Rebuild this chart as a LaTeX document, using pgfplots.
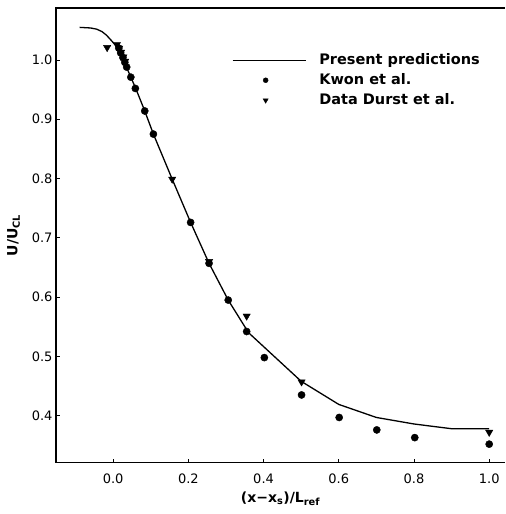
\documentclass[border=0pt]{standalone}
\usepackage{fontspec}
\setmainfont{DejaVu Sans}
\usepackage{pgfplots}
\pgfplotsset{compat=1.18}
\pgfplotsset{
  lineleg/.style={legend image code/.code={\draw[##1] (0pt,0pt) -- (73pt,0pt);}},
  markleg/.style={legend image code/.code={\path[draw=none, fill=none] (0pt,0pt) (73pt,0pt);
    \draw[##1, mark size=#1] plot coordinates {(33pt,0pt)};}},
}

% Kwon et al. (circles)
\pgfplotstableread{
x y
0.015 1.020
0.020 1.012
0.026 1.004
0.031 0.996
0.036 0.988
0.047 0.971
0.059 0.952
0.084 0.914
0.107 0.875
0.206 0.726
0.255 0.657
0.306 0.595
0.355 0.542
0.402 0.498
0.501 0.435
0.601 0.397
0.701 0.376
0.802 0.363
1.000 0.352
}\kwon

% Durst et al. (triangles)
\pgfplotstableread{
x y
-0.016 1.021
0.010 1.026
0.016 1.020
0.021 1.013
0.027 1.005
0.032 0.998
0.157 0.799
0.255 0.660
0.355 0.568
0.501 0.457
1.000 0.372
}\durst

% present predictions (line)
\pgfplotstableread{
x y
-0.089 1.055
-0.060 1.054
-0.044 1.052
-0.030 1.048
-0.018 1.042
-0.005 1.033
0.010 1.022
0.025 1.003
0.047 0.971
0.060 0.952
0.084 0.914
0.107 0.875
0.157 0.799
0.206 0.726
0.255 0.657
0.306 0.595
0.360 0.540
0.500 0.458
0.600 0.419
0.700 0.397
0.800 0.386
0.900 0.378
1.000 0.378
}\pred

\begin{document}
\begin{tikzpicture}
\begin{axis}[
  scale only axis,
  width=449pt, height=454.7pt,
  xmin=-0.152, xmax=1.042,
  ymin=0.3207, ymax=1.0877,
  clip=false,
  axis x line=box, axis y line=left,
  axis line style={-, line width=1.3pt, black},
  xtick pos=bottom, ytick pos=left,
  tick align=inside,
  major tick length=4pt,
  tick style={line width=0.9pt, black},
  xtick={0,0.2,0.4,0.6,0.8,1.0},
  xticklabels={0.0,0.2,0.4,0.6,0.8,1.0},
  ytick={0.4,0.5,0.6,0.7,0.8,0.9,1.0},
  yticklabels={0.4,0.5,0.6,0.7,0.8,0.9,1.0},
  tick label style={font=\fontsize{13}{13}\selectfont},
  xticklabel style={yshift=-8pt},
  xlabel={\textbf{(x−x\textsubscript{s})/L\textsubscript{ref}}},
  ylabel={\textbf{U/U\textsubscript{CL}}},
  xlabel style={yshift=-1pt},
  ylabel style={yshift=5pt},
  label style={font=\fontsize{14}{14}\selectfont},
  legend style={
    at={(rel axis cs:0.392,0.901)}, anchor=north west,
    draw=none, fill=none, inner sep=0pt, outer sep=0pt,
    row sep=5.5pt, column sep=13pt,
    font=\bfseries\fontsize{14.5}{14.5}\selectfont,
    nodes={inner sep=0pt, text height=11pt, text depth=3.5pt}
  },
  legend cell align=left,
]
\addplot[black, line width=1.3pt, lineleg]
  table[x=x, y=y] {\pred};
\addlegendentry{Present predictions}
\addplot[only marks, mark=*, mark size=3.6pt, black, markleg=2.5pt]
  table[x=x, y=y] {\kwon};
\addlegendentry{Kwon et al.}
\addplot[only marks, mark=triangle*, mark size=4.2pt, black,
  mark options={rotate=180}, markleg=3pt]
  table[x=x, y=y] {\durst};
\addlegendentry{Data Durst et al.}
\path ([xshift=-56pt,yshift=-51.3pt]rel axis cs:0,0);
\end{axis}
% top frame line and top margin
\draw[line width=1.3pt, black] ([xshift=-0.65pt]current axis.north west) -- (current axis.north east);
\path (current axis.north east) ++(0pt,8pt);
\end{tikzpicture}
\end{document}
